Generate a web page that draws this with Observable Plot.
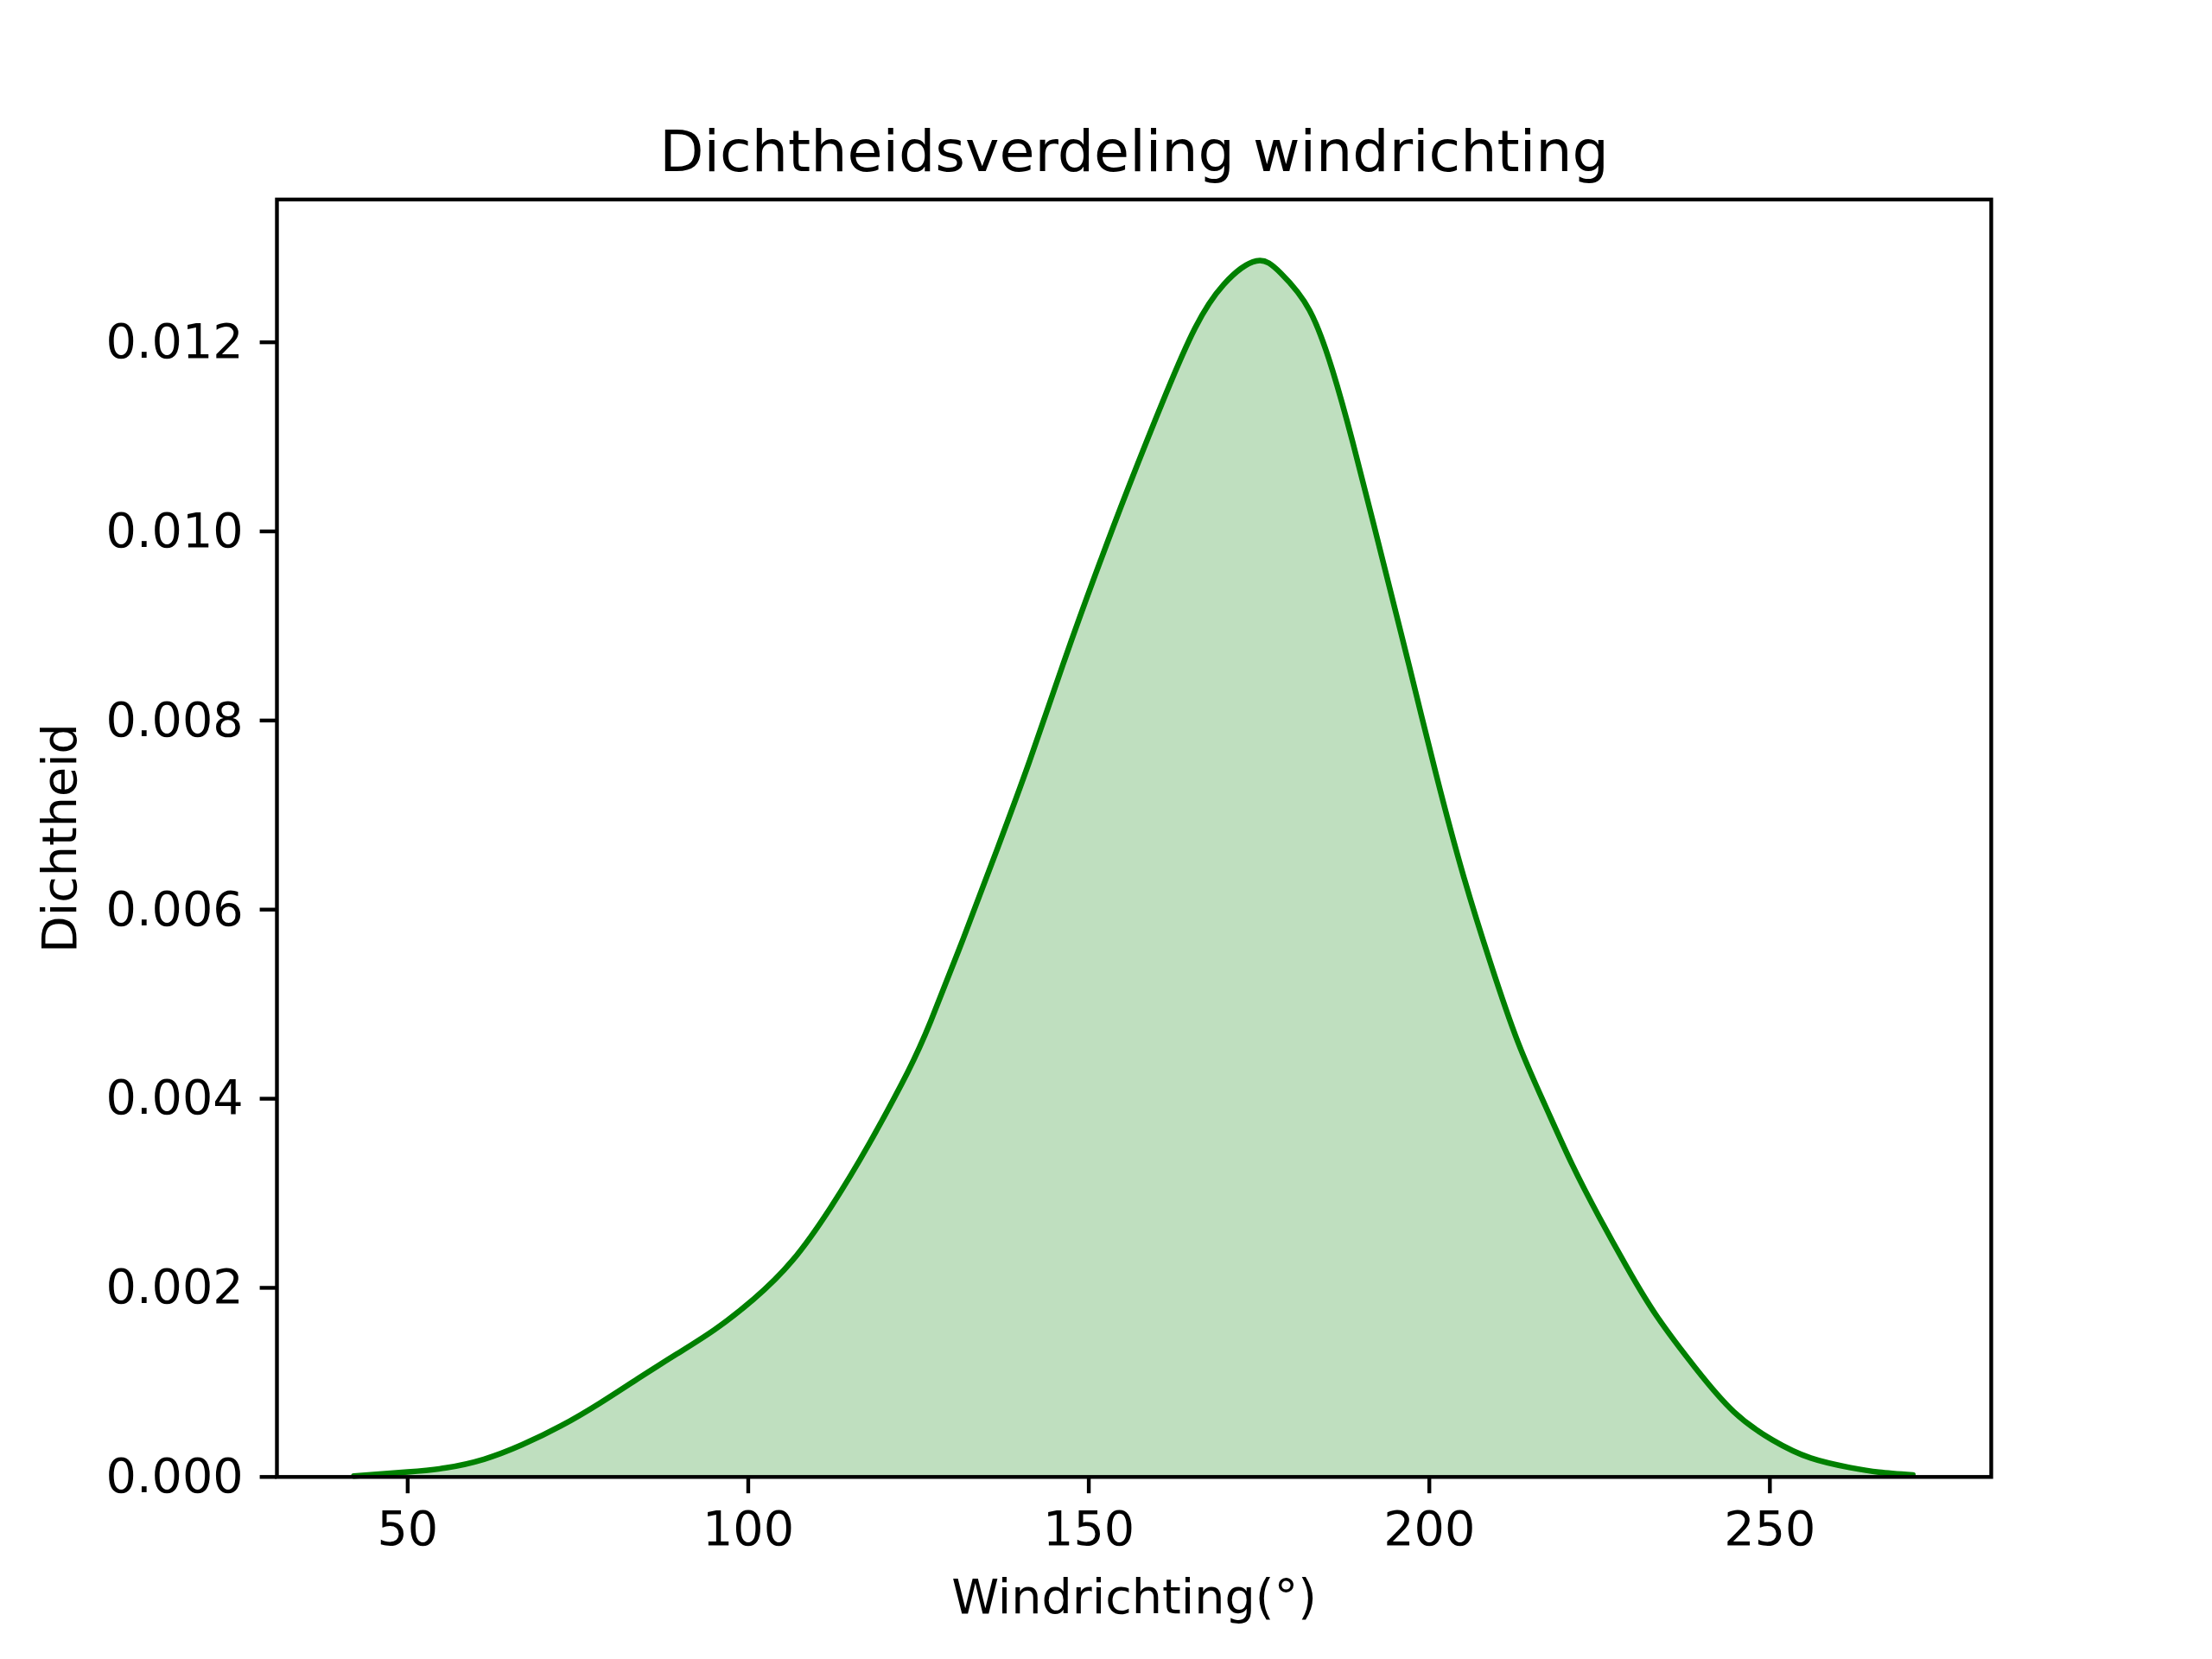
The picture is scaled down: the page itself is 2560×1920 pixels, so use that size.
<!DOCTYPE html>
<html>
<head>
<meta charset="utf-8">
<script src="https://cdn.jsdelivr.net/npm/d3@7"></script>
<script src="https://cdn.jsdelivr.net/npm/@observablehq/plot@0.6"></script>
<style>
  html, body { margin: 0; padding: 0; background: #ffffff; }
  #chart { width: 2560px; height: 1920px; position: relative; background: #ffffff; }
</style>
</head>
<body>
<div id="chart"></div>
<script>
// Wind direction (degrees) and estimated density
const windDirection = [42.1, 50, 55.6, 61.2, 66.8, 72.5, 78.2, 83.8, 89.5, 95.1, 100.8, 106.5, 112.1, 117.8, 123.4, 126.8, 131.6, 136.5, 141.3, 146.2, 151.0, 155.9, 161.3, 165.6, 169.8, 174.6, 178.2, 182.4, 185.8, 188.8, 193.0, 197.0, 201.0, 205.0, 209.0, 213.0, 217.0, 221.0, 225.0, 229.0, 233.4, 239.1, 244.7, 250.4, 256.0, 261.7, 266.0, 271.0];
const density = [0.00001, 0.000053, 0.000096, 0.000187, 0.00034, 0.00054, 0.00078, 0.00104, 0.0013, 0.00156, 0.00188, 0.00229, 0.00285, 0.00353, 0.00428, 0.00482, 0.0057, 0.00663, 0.00757, 0.00859, 0.00955, 0.01048, 0.01145, 0.01215, 0.01261, 0.01286, 0.01273, 0.01234, 0.0117, 0.01093, 0.00974, 0.00859, 0.00743, 0.00636, 0.00543, 0.0046, 0.00393, 0.0033, 0.00274, 0.00222, 0.0017, 0.00115, 0.00069, 0.00039, 0.0002, 0.0001, 0.00005, 0.00002];
const xTicks = [50, 100, 150, 200, 250];
const yTicks = [0, 0.002, 0.004, 0.006, 0.008, 0.010, 0.012];
const titleText = "Dichtheidsverdeling windrichting";
const xLabel = "Windrichting(°)";
const yLabel = "Dichtheid";

const data = windDirection.map((x, i) => ({x, y: density[i]}));

const chart = Plot.plot({
  width: 2560,
  height: 1920,
  marginLeft: 320,
  marginRight: 256,
  marginTop: 230.4,
  marginBottom: 211.2,
  style: {fontFamily: "'DejaVu Sans', sans-serif", fontSize: "55.6px", background: "#ffffff", color: "#000000"},
  x: {domain: [30.8, 282.5]},
  y: {domain: [0, 0.01351]},
  marks: [
    Plot.areaY(data, {x: "x", y: "y", fill: "green", fillOpacity: 0.25, curve: "natural"}),
    Plot.lineY(data, {x: "x", y: "y", stroke: "green", strokeWidth: 6.5, curve: "natural"}),
    Plot.axisX({ticks: xTicks, tickSize: 19.4, tickPadding: 19.4, strokeWidth: 4.4, label: null, tickFormat: d3.format("d"), fontSize: 55.6}),
    Plot.axisY({ticks: yTicks, tickSize: 19.4, tickPadding: 19.4, strokeWidth: 4.4, label: null, tickFormat: d3.format(".3f"), fontSize: 55.6}),
    Plot.frame({stroke: "black", strokeWidth: 4.4}),
    Plot.text([titleText], {frameAnchor: "top", dy: -33.3, lineAnchor: "bottom", fontSize: 66.7, fill: "black"}),
    Plot.text([xLabel], {frameAnchor: "bottom", dy: 158, lineAnchor: "bottom", fontSize: 55.6, fill: "black"}),
    Plot.text([yLabel], {frameAnchor: "left", dx: -233, rotate: -90, textAnchor: "middle", lineAnchor: "bottom", fontSize: 55.6, fill: "black"})
  ]
});
document.getElementById("chart").appendChild(chart);
</script>
</body>
</html>
